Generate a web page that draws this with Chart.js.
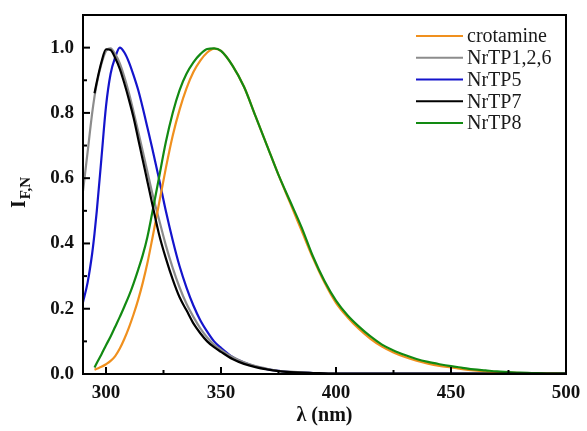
<!DOCTYPE html>
<html>
<head>
<meta charset="utf-8">
<script src="https://cdn.jsdelivr.net/npm/chart.js@4"></script>
<style>
  body { margin: 0; background: #fff; }
  #box { width: 587px; height: 431px; }
</style>
</head>
<body>
<div id="box"><canvas id="chart" width="587" height="431"></canvas></div>
<script>
// wavelength grid (nm) shared by all spectra
const wavelength = [
  290, 292, 294, 295, 296, 298, 300, 302, 304, 306, 308, 310, 312, 314, 316, 318, 320,
  323, 326, 329, 332, 335, 338, 341, 344, 347, 350,
  355, 360, 365, 370, 375, 380, 385, 390, 395, 400, 405, 410, 415, 420, 425, 430, 435, 440, 445, 450,
  455, 460, 465, 470, 475, 480, 485, 490, 495, 500
];

const crotamine = [
  null, null, null, 0.013, 0.016, 0.022, 0.030, 0.040, 0.055, 0.078, 0.108, 0.143, 0.183, 0.228, 0.280, 0.340, 0.410,
  0.520, 0.630, 0.730, 0.810, 0.875, 0.925, 0.960, 0.985, 0.997, 0.990,
  0.945, 0.880, 0.790, 0.700, 0.610, 0.525, 0.440, 0.355, 0.280, 0.218, 0.174, 0.138, 0.108, 0.084, 0.066, 0.052, 0.041, 0.032, 0.025, 0.020,
  0.015, 0.011, 0.008, 0.006, 0.004, 0.003, 0.002, 0.001, 0.001, 0.000
];

const nrtp126 = [
  0.560, 0.680, 0.800, 0.850, 0.890, 0.950, 0.990, 0.998, 0.980, 0.952, 0.910, 0.860, 0.803, 0.743, 0.682, 0.620, 0.558,
  0.475, 0.395, 0.325, 0.265, 0.215, 0.175, 0.140, 0.112, 0.090, 0.074,
  0.052, 0.036, 0.024, 0.016, 0.010, 0.007, 0.005, 0.003, 0.002, 0.002, 0.001, 0.001, 0.001, 0.001, 0.001, 0.001, 0.001, 0.001, 0.001, 0.001,
  0.001, 0.001, 0.001, 0.001, 0.001, 0.001, 0.001, 0.001, 0.001, 0.001
];

const nrtp5 = [
  0.220, 0.280, 0.370, 0.430, 0.500, 0.660, 0.820, 0.920, 0.970, 1.000, 0.985, 0.955, 0.915, 0.870, 0.815, 0.755, 0.695,
  0.600, 0.500, 0.410, 0.330, 0.265, 0.210, 0.165, 0.130, 0.100, 0.080,
  0.052, 0.035, 0.023, 0.015, 0.010, 0.006, 0.004, 0.003, 0.002, 0.001, 0.001, 0.001, 0.001, 0.001, 0.001, 0.001, 0.001, 0.001, 0.001, 0.001,
  0.001, 0.001, 0.001, 0.001, 0.001, 0.001, 0.001, 0.001, 0.001, 0.001
];

const nrtp7 = [
  null, null, null, 0.860, 0.895, 0.955, 0.995, 0.993, 0.968, 0.935, 0.890, 0.840, 0.785, 0.720, 0.655, 0.590, 0.525,
  0.430, 0.355, 0.290, 0.235, 0.195, 0.155, 0.125, 0.100, 0.082, 0.068,
  0.046, 0.031, 0.021, 0.014, 0.009, 0.006, 0.004, 0.003, 0.002, 0.001, 0.001, 0.001, 0.001, 0.001, 0.001, 0.001, 0.001, 0.001, 0.001, 0.001,
  0.001, 0.001, 0.001, 0.001, 0.001, 0.001, 0.001, 0.001, 0.001, 0.001
];

const nrtp8 = [
  null, null, null, 0.020, 0.034, 0.060, 0.088, 0.115, 0.145, 0.175, 0.207, 0.240, 0.278, 0.320, 0.365, 0.420, 0.490,
  0.600, 0.710, 0.800, 0.870, 0.920, 0.955, 0.980, 0.996, 0.998, 0.990,
  0.945, 0.880, 0.790, 0.700, 0.610, 0.530, 0.450, 0.360, 0.285, 0.225, 0.180, 0.145, 0.115, 0.090, 0.072, 0.058, 0.046, 0.037, 0.030, 0.024,
  0.019, 0.014, 0.011, 0.008, 0.006, 0.004, 0.003, 0.002, 0.001, 0.001
];

const xTicks = [300, 350, 400, 450, 500];
const xMinor = [325, 375, 425, 475];
const yTicks = [0.0, 0.2, 0.4, 0.6, 0.8, 1.0];
const yMinor = [0.1, 0.3, 0.5, 0.7, 0.9];

const serif = "'Liberation Serif', 'Times New Roman', serif";

const toPoints = (vals) => wavelength
  .map((x, i) => ({ x: x, y: vals[i] }))
  .filter(p => p.y !== null);

const series = [
  { label: 'crotamine', data: crotamine, color: '#f0901e', order: 1 },
  { label: 'NrTP1,2,6', data: nrtp126, color: '#8c8c8c', order: 1 },
  { label: 'NrTP5', data: nrtp5, color: '#1414cc', order: 1 },
  { label: 'NrTP7', data: nrtp7, color: '#000000', order: 0 },
  { label: 'NrTP8', data: nrtp8, color: '#128a12', order: 0 }
];

// frame, inward ticks, y title with subscript and the legend inside the plot
const decor = {
  id: 'decor',
  afterDraw(chart) {
    const { ctx, chartArea: a, scales: { x, y } } = chart;
    ctx.save();
    ctx.strokeStyle = '#000';
    ctx.lineWidth = 2;
    ctx.strokeRect(a.left, a.top, a.right - a.left, a.bottom - a.top);

    const seg = (x1, y1, x2, y2) => {
      ctx.beginPath();
      ctx.moveTo(x1, y1);
      ctx.lineTo(x2, y2);
      ctx.stroke();
    };
    xTicks.forEach(v => { const p = x.getPixelForValue(v); seg(p, a.bottom, p, a.bottom - 7); });
    xMinor.forEach(v => { const p = x.getPixelForValue(v); seg(p, a.bottom, p, a.bottom - 4); });
    yTicks.forEach(v => { const p = y.getPixelForValue(v); seg(a.left, p, a.left + 7, p); });
    yMinor.forEach(v => { const p = y.getPixelForValue(v); seg(a.left, p, a.left + 4, p); });

    // y title: I with subscript F,N
    ctx.translate(25, 208);
    ctx.rotate(-Math.PI / 2);
    ctx.fillStyle = '#111';
    ctx.textBaseline = 'alphabetic';
    ctx.textAlign = 'left';
    ctx.font = 'bold 20px ' + serif;
    ctx.fillText('I', 0, 0);
    const w = ctx.measureText('I').width;
    ctx.font = 'bold 15px ' + serif;
    ctx.fillText('F,N', w + 1, 5);
    ctx.setTransform(1, 0, 0, 1, 0, 0);

    // legend
    ctx.font = '20px ' + serif;
    ctx.textBaseline = 'middle';
    chart.data.datasets.forEach((ds, i) => {
      const ly = 36 + i * 21.75;
      ctx.strokeStyle = ds.borderColor;
      ctx.lineWidth = 2.2;
      seg(416, ly, 463, ly);
      ctx.fillStyle = '#1a1a1a';
      ctx.fillText(ds.label, 467, ly + 1);
    });
    ctx.restore();
  }
};

new Chart(document.querySelector('#chart'), {
  type: 'line',
  data: {
    datasets: series.map(s => ({
      label: s.label,
      data: toPoints(s.data),
      borderColor: s.color,
      borderWidth: 2.2,
      pointRadius: 0,
      cubicInterpolationMode: 'monotone',
      fill: false,
      order: s.order
    }))
  },
  options: {
    responsive: false,
    animation: false,
    layout: { padding: { left: 0, top: 15, right: 21, bottom: 0 } },
    plugins: { legend: { display: false }, tooltip: { enabled: false } },
    scales: {
      x: {
        type: 'linear',
        min: 290,
        max: 500,
        grid: { display: false, drawTicks: false },
        border: { display: false },
        afterBuildTicks: (scale) => { scale.ticks = xTicks.map(v => ({ value: v })); },
        afterFit: (scale) => {
          scale.height = 57;
          scale.paddingLeft = 0;
          scale.paddingRight = 0;
        },
        ticks: {
          padding: 8,
          color: '#111',
          font: { family: serif, size: 19, weight: 'bold' },
          callback: (v) => String(v)
        },
        title: {
          display: true,
          text: 'λ (nm)',
          color: '#111',
          font: { family: serif, size: 20, weight: 'bold' },
          padding: { top: 0, bottom: 3 }
        }
      },
      y: {
        min: 0,
        max: 1.1,
        grid: { display: false, drawTicks: false },
        border: { display: false },
        afterBuildTicks: (scale) => { scale.ticks = yTicks.map(v => ({ value: v })); },
        afterFit: (scale) => {
          scale.width = 83;
          scale.paddingTop = 0;
          scale.paddingBottom = 0;
        },
        ticks: {
          padding: 9,
          color: '#111',
          font: { family: serif, size: 19, weight: 'bold' },
          callback: (v) => Number(v).toFixed(1)
        }
      }
    }
  },
  plugins: [decor]
});
</script>
</body>
</html>
